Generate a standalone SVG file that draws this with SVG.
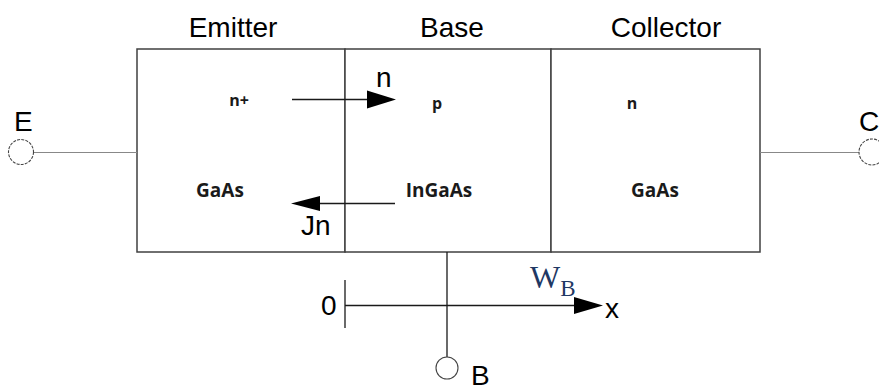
<svg xmlns="http://www.w3.org/2000/svg" width="879" height="391" viewBox="0 0 879 391">
<defs>
<style>
.lbl{font-family:"Liberation Sans",Arial,sans-serif;font-size:28px;fill:#000}
.sem{font-family:"Open Sans","Noto Sans",sans-serif;font-weight:bold;fill:#1a1a1a}
.box{fill:#fff;stroke:#404040;stroke-width:1.5}
.lead{stroke:#888;stroke-width:1.2;fill:none}
.ln{stroke:#1a1a1a;stroke-width:1.3;fill:none}
.term{fill:#fff;stroke:#444;stroke-width:1.1}
.dash{stroke-dasharray:3 1.2}
.wb{font-family:"Liberation Serif","Times New Roman",serif;fill:#1f3864}
</style>
</defs>
<rect width="879" height="391" fill="#fff"/>
<g id="titles">
<text class="lbl" x="233" y="37" text-anchor="middle">Emitter</text>
<text class="lbl" x="452" y="37" text-anchor="middle">Base</text>
<text class="lbl" x="666" y="37" text-anchor="middle">Collector</text>
</g>
<g id="emitter">
<rect class="box" x="137" y="49" width="208" height="203"/>
<text class="sem" x="239" y="106" font-size="16" text-anchor="middle">n+</text>
<text class="sem" x="220" y="197" font-size="19" text-anchor="middle">GaAs</text>
</g>
<g id="base">
<rect class="box" x="345" y="49" width="206" height="203"/>
<text class="sem" x="437" y="109" font-size="16" text-anchor="middle">p</text>
<text class="sem" x="439" y="197" font-size="19" text-anchor="middle">InGaAs</text>
</g>
<g id="collector">
<rect class="box" x="551" y="49" width="209" height="203"/>
<text class="sem" x="632" y="109" font-size="16" text-anchor="middle">n</text>
<text class="sem" x="655" y="197" font-size="19" text-anchor="middle">GaAs</text>
</g>
<g id="connectors">
<line class="lead" x1="33" y1="152.5" x2="137" y2="152.5"/>
<line class="lead" x1="760" y1="152.5" x2="859" y2="152.5"/>
<line class="ln" x1="447" y1="252" x2="447" y2="357"/>
<line class="ln" x1="292" y1="99.5" x2="370" y2="99.5"/>
<polygon points="367,90.5 396,99.5 367,108.5" fill="#000"/>
<line class="ln" x1="318" y1="203.5" x2="395" y2="203.5"/>
<polygon points="320,196 291,203.5 320,211" fill="#000"/>
</g>
<g id="flow-labels">
<text class="lbl" x="376" y="87" font-size="26">n</text>
<text class="lbl" x="301" y="235" font-size="27">Jn</text>
</g>
<g id="terminal-E">
<circle class="term dash" cx="21" cy="152" r="12.5"/>
<text class="lbl" x="14" y="131" font-size="29">E</text>
</g>
<g id="terminal-C">
<circle class="term dash" cx="872" cy="152" r="13"/>
<text class="lbl" x="859" y="131" font-size="29">C</text>
</g>
<g id="terminal-B">
<circle class="term" cx="447" cy="368" r="11"/>
<text class="lbl" x="471" y="385" font-size="27">B</text>
</g>
<g id="axis">
<line class="ln" x1="345" y1="280" x2="345" y2="328"/>
<line class="ln" x1="345" y1="305.5" x2="578" y2="305.5"/>
<polygon points="574,297 603,305.5 574,314" fill="#000"/>
<text class="lbl" x="321" y="315">0</text>
<text class="lbl" x="605" y="318">x</text>
<text class="wb" x="530" y="288" font-size="32">W<tspan font-size="23" dy="8">B</tspan></text>
</g>
</svg>
